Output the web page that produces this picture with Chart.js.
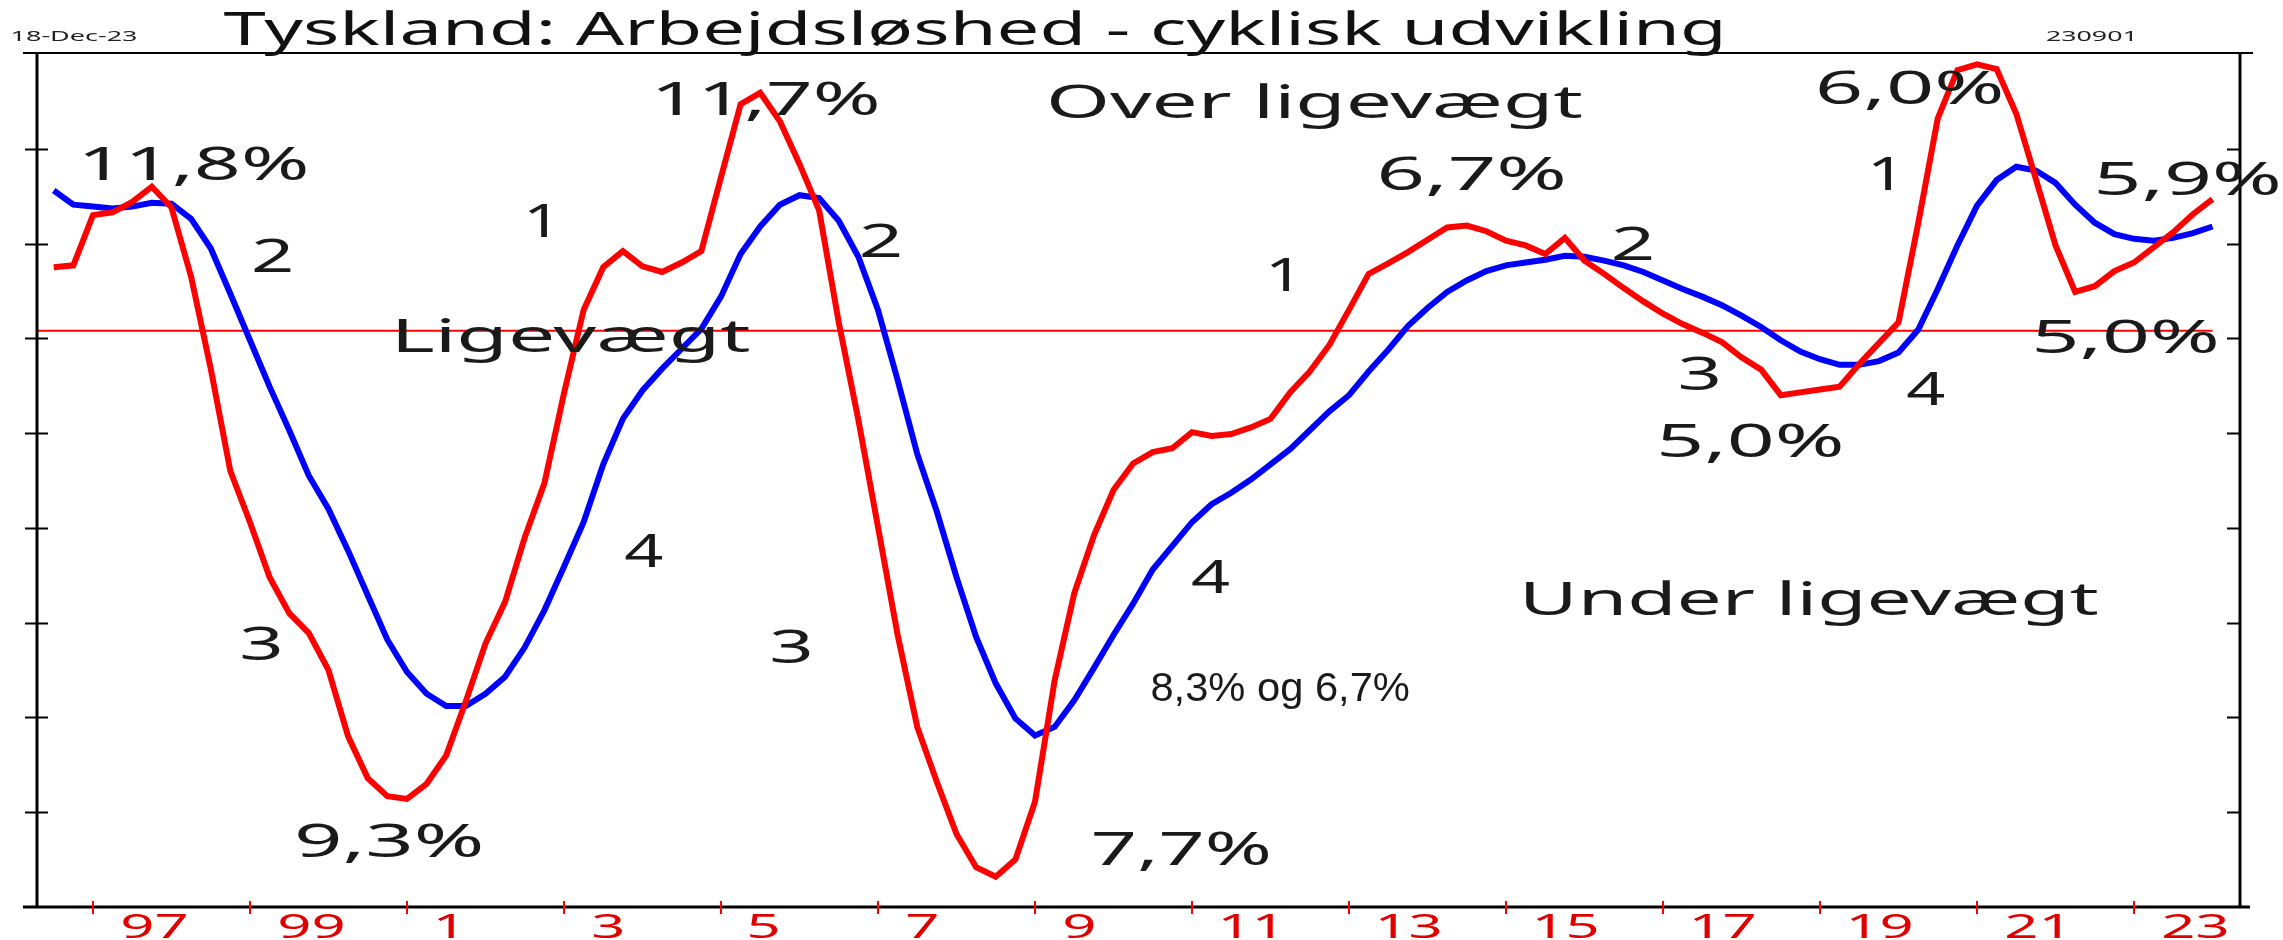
<!DOCTYPE html>
<html lang="da">
<head>
<meta charset="utf-8">
<title>Tyskland: Arbejdsløshed - cyklisk udvikling</title>
<script src="https://cdn.jsdelivr.net/npm/chart.js@4.4.1/dist/chart.umd.min.js"></script>
<style>
  html, body { margin: 0; padding: 0; background: #fff; }
  canvas { display: block; }
</style>
</head>
<body>
<canvas id="chart" width="2283" height="940"></canvas>
<script>
// --- Data (kvartalsvis) ---
const firstQuarter = { year: 1996, q: 2 };

// Rød kurve: cyklisk arbejdsløshed
const redValues = [
  6.75, 6.77, 7.30, 7.33, 7.44, 7.60, 7.38, 6.65, 5.68, 4.60,
  4.06, 3.48, 3.10, 2.89, 2.50, 1.80, 1.36, 1.17, 1.14, 1.30,
  1.60, 2.17, 2.78, 3.22, 3.90, 4.47, 5.42, 6.30, 6.75, 6.92,
  6.76, 6.70, 6.80, 6.92, 7.70, 8.47, 8.59, 8.29, 7.84, 7.35,
  6.17, 5.14, 4.01, 2.87, 1.90, 1.32, 0.77, 0.42, 0.32, 0.50,
  1.11, 2.39, 3.31, 3.92, 4.40, 4.68, 4.80, 4.84, 5.01, 4.97,
  4.99, 5.06, 5.15, 5.43, 5.65, 5.93, 6.30, 6.68, 6.79, 6.91,
  7.04, 7.17, 7.19, 7.13, 7.03, 6.98, 6.89, 7.06, 6.82, 6.68,
  6.53, 6.39, 6.26, 6.15, 6.06, 5.96, 5.80, 5.67, 5.40, 5.43,
  5.46, 5.49, 5.73, 5.95, 6.17, 7.21, 8.32, 8.83, 8.89, 8.84,
  8.37, 7.68, 6.98, 6.49, 6.55, 6.71, 6.80, 6.96, 7.12, 7.31,
  7.47
];

// Blå kurve: udglattet udvikling
const blueValues = [
  7.56, 7.41, 7.39, 7.37, 7.39, 7.43, 7.42, 7.26, 6.95, 6.47,
  5.98, 5.49, 5.03, 4.55, 4.20, 3.76, 3.29, 2.82, 2.48, 2.25,
  2.12, 2.12, 2.25, 2.43, 2.74, 3.13, 3.59, 4.06, 4.67, 5.15,
  5.45, 5.68, 5.89, 6.10, 6.44, 6.89, 7.18, 7.41, 7.51, 7.48,
  7.24, 6.86, 6.30, 5.56, 4.78, 4.17, 3.48, 2.85, 2.36, 1.99,
  1.81, 1.90, 2.18, 2.52, 2.87, 3.20, 3.56, 3.81, 4.06, 4.25,
  4.37, 4.51, 4.67, 4.83, 5.03, 5.23, 5.40, 5.65, 5.88, 6.13,
  6.32, 6.49, 6.61, 6.71, 6.77, 6.80, 6.83, 6.87, 6.86, 6.82,
  6.77, 6.70, 6.61, 6.52, 6.44, 6.35, 6.24, 6.12, 5.98, 5.86,
  5.78, 5.72, 5.72, 5.76, 5.85, 6.09, 6.52, 6.98, 7.40, 7.67,
  7.81, 7.77, 7.64, 7.41, 7.22, 7.10, 7.05, 7.03, 7.06, 7.11,
  7.18
];

const equilibrium = 6.08; // "Ligevægt"

const xTickYears = [1997, 1999, 2001, 2003, 2005, 2007, 2009, 2011, 2013, 2015, 2017, 2019, 2021, 2023];
const xTickLabels = ["97", "99", "1", "3", "5", "7", "9", "11", "13", "15", "17", "19", "21", "23"];
const yTickValues = [1, 2, 3, 4, 5, 6, 7, 8];

const X_MIN = 1996.287;
const X_MAX = 2024.35;
const Y_MIN = 0;
const Y_MAX = 9;

// Tekster i diagrammet (placeret i dataenheder)
const annotations = [
  { text: "11,8%", x: 1998.31, y: 7.67, w: 222 },
  { text: "2", x: 1999.29, y: 6.70, w: 37 },
  { text: "1", x: 2002.67, y: 7.07, w: 18 },
  { text: "11,7%", x: 2005.60, y: 8.36, w: 220 },
  { text: "Ligevægt", x: 2003.13, y: 5.86, w: 352 },
  { text: "2", x: 2007.04, y: 6.86, w: 38 },
  { text: "Over ligevægt", x: 2012.58, y: 8.32, w: 533 },
  { text: "6,7%", x: 2014.57, y: 7.57, w: 184 },
  { text: "1", x: 2012.12, y: 6.50, w: 18 },
  { text: "2", x: 2016.62, y: 6.83, w: 38 },
  { text: "3", x: 2017.47, y: 5.45, w: 38 },
  { text: "5,0%", x: 2018.12, y: 4.75, w: 182 },
  { text: "4", x: 2020.34, y: 5.30, w: 38 },
  { text: "1", x: 2019.79, y: 7.57, w: 18 },
  { text: "6,0%", x: 2020.15, y: 8.47, w: 183 },
  { text: "5,9%", x: 2023.69, y: 7.51, w: 182 },
  { text: "5,0%", x: 2022.90, y: 5.85, w: 182 },
  { text: "3", x: 1999.15, y: 2.61, w: 38 },
  { text: "9,3%", x: 2000.78, y: 0.53, w: 184 },
  { text: "4", x: 2004.01, y: 3.59, w: 38 },
  { text: "3", x: 2005.90, y: 2.57, w: 38 },
  { text: "7,7%", x: 2010.86, y: 0.44, w: 177 },
  { text: "4", x: 2011.23, y: 3.31, w: 38 },
  { text: "Under ligevægt", x: 2018.90, y: 3.08, w: 572 },
  { text: "8,3% og 6,7%", x: 2012.12, y: 2.17, w: 257, font: '41px "Liberation Sans", Arial, sans-serif' }
];

// --- Kvartaler -> decimalår (slut af kvartal) ---
const quarters = redValues.map((_, i) => {
  const n = firstQuarter.q - 1 + i;
  return { year: firstQuarter.year + Math.floor(n / 4), q: (n % 4) + 1 };
});
const quarterX = quarters.map((p) => p.year + p.q / 4);

const GOTHIC = '45px "Noto Sans", "DejaVu Sans", sans-serif';
const TICK_FONT = '33px "Noto Sans", "DejaVu Sans", sans-serif';
const TEXT_COLOR = "#1a1a1a";

// Tegn tekst strakt vandret, så blækket får bredden inkW og er centreret om cx
function stretchText(ctx, text, cx, by, inkW, font, color) {
  ctx.save();
  ctx.font = font;
  ctx.fillStyle = color;
  ctx.textAlign = "left";
  ctx.textBaseline = "alphabetic";
  const m = ctx.measureText(text);
  const ink = m.actualBoundingBoxLeft + m.actualBoundingBoxRight;
  const k = inkW / ink;
  ctx.translate(cx, by);
  ctx.scale(k, 1);
  ctx.fillText(text, -(m.actualBoundingBoxRight - m.actualBoundingBoxLeft) / 2, 0);
  ctx.restore();
}

function hLine(ctx, x1, x2, y) {
  ctx.beginPath();
  ctx.moveTo(x1, y);
  ctx.lineTo(x2, y);
  ctx.stroke();
}

function vLine(ctx, x, y1, y2) {
  ctx.beginPath();
  ctx.moveTo(x, y1);
  ctx.lineTo(x, y2);
  ctx.stroke();
}

const framePlugin = {
  id: "frame",
  afterDatasetsDraw(chart) {
    const { ctx, chartArea: a, scales } = chart;
    const xs = scales.x;
    const ys = scales.y;
    ctx.save();

    // ramme
    ctx.strokeStyle = "#000";
    ctx.lineWidth = 2;
    hLine(ctx, a.left - 14, a.right + 13, a.top - 1);
    ctx.lineWidth = 3;
    hLine(ctx, a.left - 14, a.right + 10, a.bottom);
    vLine(ctx, a.left, a.top - 1, a.bottom);
    vLine(ctx, a.right, a.top - 1, a.bottom);

    // y-streger
    ctx.lineWidth = 2;
    yTickValues.forEach((v) => {
      const py = Math.round(ys.getPixelForValue(v)) + 0.5;
      hLine(ctx, a.left - 12, a.left + 11, py);
      hLine(ctx, a.right - 13, a.right, py);
    });

    // x-streger og etiketter
    ctx.strokeStyle = "#ff0000";
    ctx.lineWidth = 2;
    ctx.font = TICK_FONT;
    const ref = ctx.measureText("97");
    const k = 65 / (ref.actualBoundingBoxLeft + ref.actualBoundingBoxRight);
    xTickYears.forEach((yr, i) => {
      const px = Math.round(xs.getPixelForValue(yr));
      vLine(ctx, px, a.bottom - 6, a.bottom + 7);
      const label = xTickLabels[i];
      ctx.save();
      ctx.font = TICK_FONT;
      ctx.fillStyle = "#e00000";
      const m = ctx.measureText(label);
      ctx.translate(px + 29, a.bottom + 31);
      ctx.scale(k, 1);
      ctx.fillText(label, m.actualBoundingBoxLeft, 0);
      ctx.restore();
    });

    // tekster i diagrammet
    annotations.forEach((t) => {
      stretchText(ctx, t.text, xs.getPixelForValue(t.x), ys.getPixelForValue(t.y),
        t.w, t.font || GOTHIC, TEXT_COLOR);
    });

    // titel og små tekster
    stretchText(ctx, "Tyskland: Arbejdsløshed - cyklisk udvikling", 972, 45, 1497, GOTHIC, "#111");
    stretchText(ctx, "18-Dec-23", 75, 41, 125, '14px "Noto Sans", "DejaVu Sans", sans-serif', "#222");
    stretchText(ctx, "230901", 2089, 41, 86, '14px "Noto Sans", "DejaVu Sans", sans-serif', "#222");

    ctx.restore();
  }
};

document.addEventListener("DOMContentLoaded", () => {
  const ctx = document.getElementById("chart").getContext("2d");
  const lastX = quarterX[quarterX.length - 1];

  new Chart(ctx, {
    type: "line",
    data: {
      datasets: [
        {
          label: "Arbejdsløshed, cyklisk",
          data: quarterX.map((x, i) => ({ x: x, y: redValues[i] })),
          borderColor: "#ff0000",
          borderWidth: 6,
          pointRadius: 0,
          tension: 0,
          fill: false,
        },
        {
          label: "Udglattet",
          data: quarterX.map((x, i) => ({ x: x, y: blueValues[i] })),
          borderColor: "#0000ff",
          borderWidth: 6,
          pointRadius: 0,
          tension: 0,
          fill: false,
        },
        {
          label: "Ligevægt",
          data: [
            { x: X_MIN, y: equilibrium },
            { x: lastX, y: equilibrium },
          ],
          borderColor: "#ff0000",
          borderWidth: 2,
          pointRadius: 0,
          fill: false,
        },
      ],
    },
    options: {
      responsive: false,
      animation: false,
      devicePixelRatio: 1,
      events: [],
      layout: { padding: { left: 37, right: 43, top: 54, bottom: 33 } },
      scales: {
        x: { type: "linear", min: X_MIN, max: X_MAX, display: false },
        y: { type: "linear", min: Y_MIN, max: Y_MAX, display: false },
      },
      plugins: {
        legend: { display: false },
        tooltip: { enabled: false },
      },
    },
    plugins: [framePlugin],
  });
});
</script>
</body>
</html>
